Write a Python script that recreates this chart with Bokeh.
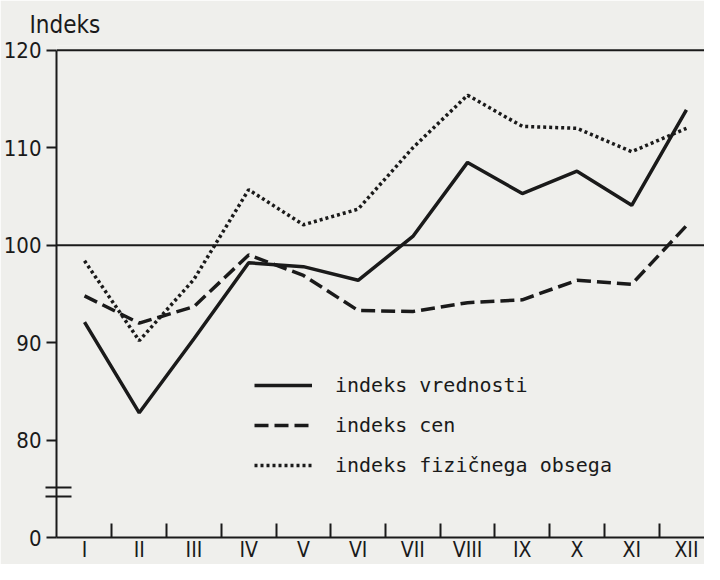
from bokeh.plotting import figure
from bokeh.models import FixedTicker, Span, Legend, LegendItem, Range1d
from bokeh.embed import file_html
from bokeh.resources import INLINE

# ---------------- data ----------------
months = ["I", "II", "III", "IV", "V", "VI", "VII", "VIII", "IX", "X", "XI", "XII"]
month_pos = [1, 2, 3, 4, 5, 6, 7, 8, 9, 10, 11, 12]
indeks_vrednosti = [92.1, 82.8, 90.4, 98.2, 97.8, 96.4, 100.9, 108.5, 105.3, 107.6, 104.1, 113.9]
indeks_cen = [94.8, 92.0, 93.7, 99.0, 96.9, 93.3, 93.2, 94.1, 94.4, 96.4, 96.0, 102.0]
indeks_fizicnega_obsega = [98.4, 90.2, 96.5, 105.7, 102.1, 103.7, 110.0, 115.4, 112.2, 112.0, 109.6, 112.0]
series_names = ["indeks vrednosti", "indeks cen", "indeks fizičnega obsega"]
y_ticks = [70, 80, 90, 100, 110, 120]          # 70 = position of the broken-axis "0"
y_tick_labels = ["0", "80", "90", "100", "110", "120"]
break_marks = [74.2, 75.1]
ref_lines = [120, 100]

# ---------------- style ----------------
BG = "#efefec"
INK = "#1a1a1a"
FONT = "'DejaVu Sans Condensed', 'Liberation Sans Narrow', Roboto, sans-serif"
MONO = "DejaVu Sans Mono"

X0, X1 = 0.488, 12.33
Y0, Y1 = 70, 120.5

p = figure(width=704, height=564, output_backend="svg", toolbar_location=None,
           x_range=Range1d(X0, X1), y_range=Range1d(Y0, Y1),
           min_border_left=56, min_border_right=0, min_border_top=45, min_border_bottom=27,
           background_fill_color=BG, border_fill_color=BG)
p.outline_line_color = None
p.grid.visible = False

p.title.text = "Indeks"
p.title.align = "left"
p.title.offset = -27
p.title.text_font = FONT
p.title.text_font_size = "24px"
p.title.text_font_style = "normal"
p.title.text_color = INK
p.title.standoff = 13

# x axis
xa = p.xaxis[0]
xa.ticker = FixedTicker(ticks=month_pos, minor_ticks=[m + 0.5 for m in month_pos[:-1]])
xa.major_label_overrides = {m: lab for m, lab in zip(month_pos, months)}
xa.major_tick_line_color = None
xa.minor_tick_in = 14
xa.minor_tick_out = 0
xa.minor_tick_line_color = INK
xa.minor_tick_line_width = 2
xa.axis_line_color = INK
xa.axis_line_width = 2
xa.major_label_text_font = FONT
xa.major_label_text_font_size = "21px"
xa.major_label_text_color = INK
xa.major_label_standoff = -6

# y axis (minor ticks used as the axis-break marks)
ya = p.yaxis[0]
ya.ticker = FixedTicker(ticks=y_ticks, minor_ticks=break_marks)
ya.major_label_overrides = {t: lab for t, lab in zip(y_ticks, y_tick_labels)}
ya.bounds = (Y0, 120)
ya.major_tick_in = 0
ya.major_tick_out = 10
ya.major_tick_line_color = INK
ya.major_tick_line_width = 2
ya.minor_tick_in = 15
ya.minor_tick_out = 11
ya.minor_tick_line_color = INK
ya.minor_tick_line_width = 2
ya.axis_line_color = INK
ya.axis_line_width = 2
ya.major_label_text_font = FONT
ya.major_label_text_font_size = "22px"
ya.major_label_text_color = INK
ya.major_label_standoff = 4

for v in ref_lines:
    p.add_layout(Span(location=v, dimension="width", line_color=INK, line_width=2))

r1 = p.line(month_pos, indeks_vrednosti, line_color=INK, line_width=3.5)
r2 = p.line(month_pos, indeks_cen, line_color=INK, line_width=3.5, line_dash="14 6")
r3 = p.line(month_pos, indeks_fizicnega_obsega, line_color=INK, line_width=3.5, line_dash="3 3")

legend = Legend(items=[LegendItem(label=n, renderers=[r]) for n, r in zip(series_names, [r1, r2, r3])],
                location=(198, 60), orientation="vertical",
                glyph_width=58, glyph_height=20, label_height=20, spacing=16,
                label_standoff=23, padding=0, margin=0,
                background_fill_alpha=0, border_line_color=None,
                label_text_font=MONO, label_text_font_size="20px", label_text_color=INK)
p.add_layout(legend)

open("out.html", "w").write(file_html(p, INLINE))
